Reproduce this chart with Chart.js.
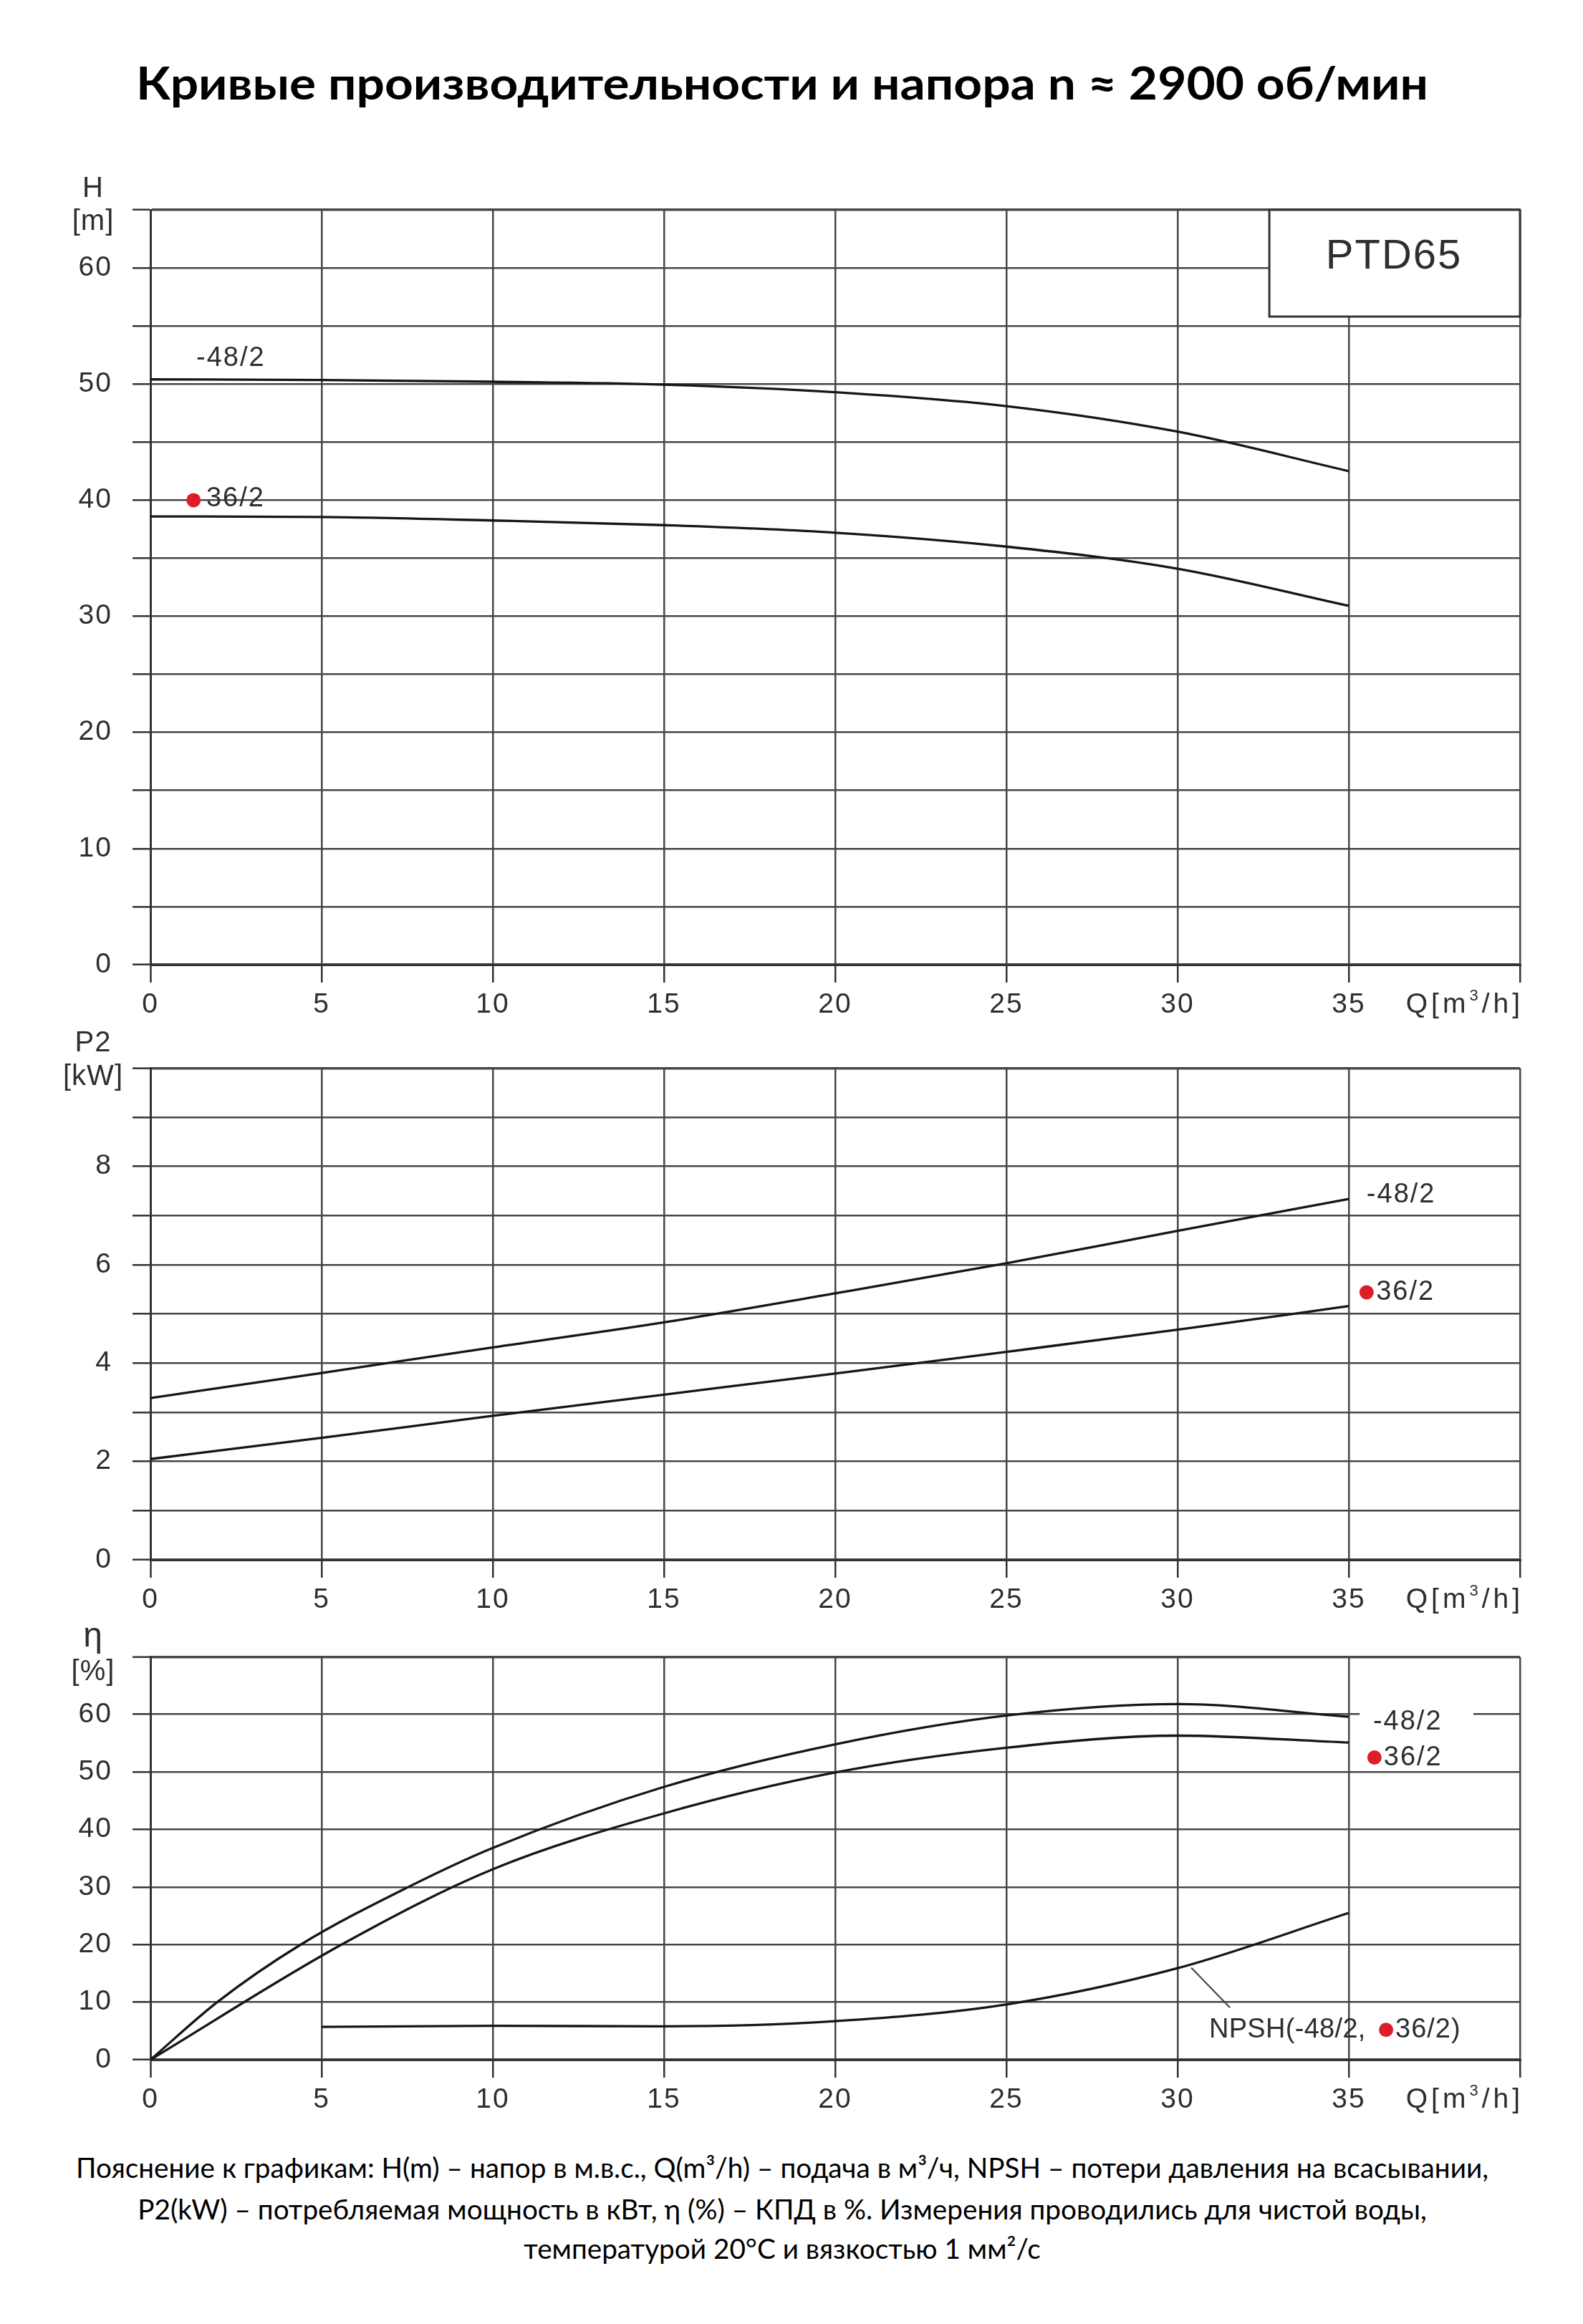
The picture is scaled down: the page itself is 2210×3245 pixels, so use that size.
<!DOCTYPE html>
<html><head><meta charset="utf-8">
<script src="https://cdn.jsdelivr.net/npm/chart.js@4.4.0/dist/chart.umd.min.js"></script>
<style>
html,body{margin:0;padding:0;background:#fff;}
body{width:2210px;height:3245px;position:relative;overflow:hidden;}
canvas{position:absolute;left:0;}
#title{position:absolute;left:0;width:2184px;text-align:center;font-family:Lato,"Open Sans",sans-serif;font-weight:700;white-space:nowrap;color:#000;transform-origin:1092px 50%;}
.foot{position:absolute;left:0;width:2184px;text-align:center;font-family:Lato,"Open Sans",sans-serif;white-space:nowrap;color:#000;transform-origin:1092px 50%;}
</style></head>
<body>
<div id="title">Кривые производительности и напора n ≈ 2900 об/мин</div>
<canvas id="c1" width="2210" height="1220" style="top:220px;width:2210px;height:1220px"></canvas>
<canvas id="c2" width="2210" height="822" style="top:1440px;width:2210px;height:822px"></canvas>
<canvas id="c3" width="2210" height="700" style="top:2262px;width:2210px;height:700px"></canvas>
<div class="foot" id="f1">Пояснение к графикам: H(m) – напор в м.в.с., Q(m³/h) – подача в м³/ч, NPSH – потери давления на всасывании,</div>
<div class="foot" id="f2">P2(kW) – потребляемая мощность в кВт, η (%) – КПД в %. Измерения проводились для чистой воды,</div>
<div class="foot" id="f3">температурой 20°C и вязкостью 1 мм²/с</div>
<script>
// ---- data ----
const qH=[0,5,10,15,20,25,30,35];
const h48=[50.4,50.35,50.2,49.95,49.3,48.1,45.9,42.5];
const h36=[38.6,38.55,38.25,37.85,37.2,36.0,34.1,30.9];
const qP=[0,5,10,15,20,25,30,35];
const p48=[3.29,3.80,4.32,4.83,5.42,6.03,6.69,7.34];
const p36=[2.05,2.48,2.93,3.36,3.79,4.23,4.68,5.16];
const qEta48=[0,1.95,4.39,7.53,10,15,20,25,30,35];
const eta48=[0,10,20,30,36.8,47.4,54.8,59.8,61.8,59.6];
const qEta36=[0,5.58,10,15,20,25,30,35];
const eta36=[0,20,33.1,42.8,49.9,54.2,56.3,55.1];
const qNpsh=[5,10,15,20,25,30,35];
const npsh=[5.7,5.9,5.8,6.7,9.6,15.9,25.5];
const qTicks=[0,5,10,15,20,25,30,35];
const hTicks=[0,10,20,30,40,50,60];
const pTicks=[0,2,4,6,8];
const etaTicks=[0,10,20,30,40,50,60];

// ---- HTML texts: size by cap height, stretch to measured width ----
(function(){
  const m=document.createElement('canvas').getContext('2d');
  function setup(id,weight,fs,targetW,capMid){
    const e=document.getElementById(id);
    m.font=weight+' '+fs+'px Lato';
    const w=m.measureText(e.textContent).width;
    e.style.fontSize=fs+'px';e.style.lineHeight=fs+'px';e.style.top=(capMid-0.53*fs)+'px';
    if(targetW) e.style.transform='scaleX('+(targetW/w)+')';
    return targetW?targetW/w:1;
  }
  setup('title','bold',63,1804,116);
  const k=setup('f1','normal',38,1972,3027);
  ['f2','f3'].forEach((id,i)=>{const e=document.getElementById(id);e.style.fontSize='38px';e.style.lineHeight='38px';e.style.top=([3085,3140][i]-0.53*38)+'px';e.style.transform='scaleX('+k+')';});
})();

const TXT='#2e2e2e', GRID='#474747', CURVE='#161616', RED='#dc1e28';
const FONT='"Liberation Sans", Arial, sans-serif';

function pts(xs,ys){return xs.map((x,i)=>({x:x,y:ys[i]}));}
function ds(xs,ys){return {data:pts(xs,ys),borderColor:CURVE,borderWidth:3.3,pointRadius:0,cubicInterpolationMode:'monotone',fill:false};}

function annPlugin(opt){
  return {id:'ann',
  beforeDraw(chart){chart.ctx.letterSpacing='2px';},
  afterDatasetsDraw(chart){
    const c=chart.ctx, X=chart.scales.x, Y=chart.scales.y;
    const px=v=>X.getPixelForValue(v), py=v=>Y.getPixelForValue(v);
    c.save();
    c.letterSpacing='1px';
    // axis name
    c.fillStyle=TXT;c.textAlign='center';c.textBaseline='middle';
    c.font=opt.name[4]+'px '+FONT;
    c.fillText(opt.name[0],130,opt.name[2]);
    c.font='40px '+FONT;
    c.fillText(opt.name[1],130,opt.name[3]);
    // Q label
    const qy=X.top+56, right=chart.chartArea.right;
    c.font='39px '+FONT;c.textAlign='left';
    c.letterSpacing='5px';
    const a='Q[m', b='/h]';
    const wa=c.measureText(a).width, wb=c.measureText(b).width;
    c.font='22px '+FONT;const ws=c.measureText('3').width;
    let x0=right-(wa+ws+wb)+5;
    c.font='39px '+FONT;c.fillText(a,x0,qy);
    c.font='22px '+FONT;c.fillText('3',x0+wa,qy-12);
    c.font='39px '+FONT;c.fillText(b,x0+wa+ws,qy);
    (opt.items||[]).forEach(it=>{
      if(it.t==='text'){
        if(it.bg){c.fillStyle='#fff';c.fillRect(px(it.bg[0]),py(it.bg[2]),px(it.bg[1])-px(it.bg[0]),py(it.bg[3])-py(it.bg[2]));}
        c.letterSpacing=(it.ls!==undefined?it.ls:2)+'px';
        c.fillStyle=TXT;c.font='38px '+FONT;c.textAlign='left';c.textBaseline='middle';
        c.fillText(it.s,px(it.x),py(it.y));
      } else if(it.t==='dot'){
        c.fillStyle=RED;c.beginPath();c.arc(px(it.x),py(it.y),10,0,Math.PI*2);c.fill();
      } else if(it.t==='line'){
        c.strokeStyle=GRID;c.lineWidth=2.2;c.beginPath();c.moveTo(px(it.x0),py(it.y0));c.lineTo(px(it.x1),py(it.y1));c.stroke();
      } else if(it.t==='box'){
        const l=px(it.x0),r=px(it.x1),t=py(it.y1),b=py(it.y0);
        c.fillStyle='#fff';c.fillRect(l,t,r-l,b-t);
        c.strokeStyle='#333';c.lineWidth=3;c.strokeRect(l,t,r-l,b-t);
        c.fillStyle=TXT;c.font='58px '+FONT;c.textAlign='center';c.textBaseline='middle';c.letterSpacing='2px';
        c.fillText(it.s,px(it.tx),py(it.ty));
      }
    });
    c.restore();
  }};
}

function build(id,padTop,xH,ymax,ystep,ylabels,datasets,opt){
  return new Chart(document.getElementById(id),{
    type:'line',
    data:{datasets:datasets},
    options:{
      responsive:false,animation:false,devicePixelRatio:1,
      layout:{padding:{top:padTop,right:88,left:0,bottom:0}},
      plugins:{legend:{display:false},tooltip:{enabled:false}},
      scales:{
        x:{type:'linear',min:0,max:40,
          afterFit(s){s.height=xH;},
          ticks:{stepSize:5,autoSkip:false,maxRotation:0,padding:8,color:TXT,font:{family:FONT,size:39},
            callback:v=>qTicks.includes(v)?String(v):''},
          grid:{color:GRID,lineWidth:c=>(c.tick&&c.tick.value===0)?3:2.5,tickLength:25,tickColor:'#333',tickWidth:2.5},
          border:{color:'#333',width:3}},
        y:{min:0,max:ymax,
          afterFit(s){s.width=210;},
          ticks:{stepSize:ystep,autoSkip:false,padding:28,color:TXT,font:{family:FONT,size:39},
            callback:v=>ylabels.includes(v)?String(v):''},
          grid:{color:GRID,lineWidth:c=>(c.tick&&(c.tick.value===0||c.tick.value===ymax))?3.4:2.6,tickLength:25,tickColor:'#333',tickWidth:2.5},
          border:{color:'#333',width:3}}
      }
    },
    plugins:[annPlugin(opt)]
  });
}

build('c1',73,93,65,5,hTicks,[ds(qH,h48),ds(qH,h36)],{
  name:['H','[m]',44,90,40],
  items:[
    {t:'text',x:1.34,y:52.2,s:'-48/2'},
    {t:'dot',x:1.26,y:40},
    {t:'text',x:1.63,y:40.1,s:'36/2'},
    {t:'box',x0:32.68,x1:40,y0:55.81,y1:65,s:'PTD65',tx:36.32,ty:60.9}
  ]});

build('c2',41,84,10,1,pTicks,[ds(qP,p48),ds(qP,p36)],{
  name:['P2','[kW]',17,64,40],
  items:[
    {t:'text',x:35.52,y:7.42,s:'-48/2'},
    {t:'dot',x:35.52,y:5.44},
    {t:'text',x:35.80,y:5.44,s:'36/2'}
  ]});

build('c3',50,86,70,10,etaTicks,[ds(qEta48,eta48),ds(qEta36,eta36),ds(qNpsh,npsh)],{
  name:['η','[%]',24,73,48],
  items:[
    {t:'text',x:35.71,y:58.7,s:'-48/2',bg:[35.32,38.64,61.4,56.1]},
    {t:'dot',x:35.75,y:52.5},
    {t:'text',x:36.02,y:52.5,s:'36/2'},
    {t:'line',x0:30.4,y0:16.0,x1:31.53,y1:9.06},
    {t:'text',x:30.92,y:5.2,s:'NPSH(-48/2,',ls:0.3},
    {t:'dot',x:36.09,y:5.2},
    {t:'text',x:36.36,y:5.2,s:'36/2)',ls:1}
  ]});
</script>
</body></html>
